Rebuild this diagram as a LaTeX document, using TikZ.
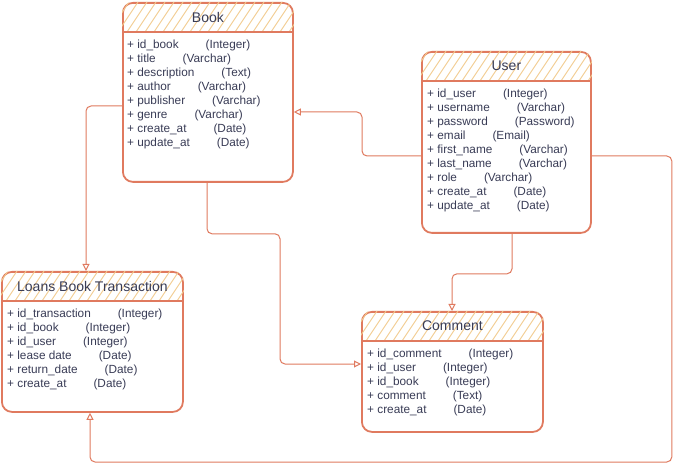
\documentclass[tikz,border=0pt]{standalone}
\usepackage{fontspec}
\setmainfont{Liberation Sans}
\usetikzlibrary{calc,arrows.meta}
\definecolor{strk}{HTML}{E07A5F}
\definecolor{hfill}{HTML}{F2CC8F}
\definecolor{txt}{HTML}{393C56}
\tikzset{
  tbl/.style={draw=strk, line width=1.8pt, rounded corners=10pt, anchor=north west, inner sep=0pt, fill=white},
  hatch/.style={draw=hfill, line width=0.9pt},
  sepline/.style={draw=strk, line width=1.8pt},
  ttl/.style={text=txt, font=\fontsize{14}{16}\selectfont, anchor=center, inner sep=0pt},
  attrs/.style={text=txt, font=\fontsize{11.8}{14}\selectfont, align=left, anchor=north west, inner sep=0pt},
  conn/.style={draw=strk, line width=1pt, rounded corners=5pt, -{Triangle[open,length=7pt,width=7pt]}},
}
\newcommand{\gp}{\hspace{27pt}}
\newcommand{\hdr}[2]{%
  \begin{scope}
    \clip (#1.north west) rectangle ($(#1.north east)+(0,30)$);
    \clip[rounded corners=10pt] (#1.north west) rectangle (#1.south east);
    \foreach \i in {-40,-31,...,200} {
      \draw[hatch] ($(#1.north west)+(\i,30)$) -- ++(20,-30);
    }
  \end{scope}
  \draw[sepline] ($(#1.north west)+(0,30)$) -- ($(#1.north east)+(0,30)$);
  \node[ttl] (#1-title) at ($(#1.north)+(0,15)$) {#2};
}
\begin{document}
\begin{tikzpicture}[x=1pt,y=-1pt]
\useasboundingbox[fill=white] (0,0) rectangle (680,470);

% tables
\node[tbl, minimum width=170pt, minimum height=179pt] (book) at (122,2) {};
\hdr{book}{Book}
\node[tbl, minimum width=169pt, minimum height=181pt] (user) at (421,51) {};
\hdr{user}{User}
\node[tbl, minimum width=181pt, minimum height=140pt] (loans) at (1,271) {};
\hdr{loans}{Loans Book Transaction}
\node[tbl, minimum width=181pt, minimum height=120pt] (comment) at (361,311) {};
\hdr{comment}{Comment}

% attributes
\node[attrs] (book-attr) at ($(book.north west)+(5,38)$) {%
+ id\_book\gp(Integer)\\
+ title\gp(Varchar)\\
+ description\gp(Text)\\
+ author\gp(Varchar)\\
+ publisher\gp(Varchar)\\
+ genre\gp(Varchar)\\
+ create\_at\gp(Date)\\
+ update\_at\gp(Date)};
\node[attrs] (user-attr) at ($(user.north west)+(6,38)$) {%
+ id\_user\gp(Integer)\\
+ username\gp(Varchar)\\
+ password\gp(Password)\\
+ email\gp(Email)\\
+ first\_name\gp(Varchar)\\
+ last\_name\gp(Varchar)\\
+ role\gp(Varchar)\\
+ create\_at\gp(Date)\\
+ update\_at\gp(Date)};
\node[attrs] (loans-attr) at ($(loans.north west)+(6,38)$) {%
+ id\_transaction\gp(Integer)\\
+ id\_book\gp(Integer)\\
+ id\_user\gp(Integer)\\
+ lease date\gp(Date)\\
+ return\_date\gp(Date)\\
+ create\_at\gp(Date)};
\node[attrs] (comment-attr) at ($(comment.north west)+(6,38)$) {%
+ id\_comment\gp(Integer)\\
+ id\_user\gp(Integer)\\
+ id\_book\gp(Integer)\\
+ comment\gp(Text)\\
+ create\_at\gp(Date)};

% connectors
\draw[conn] ($(book.north west)+(0,104)$) -| ($(loans.north west)+(85,0)$);
\draw[conn] ($(book.south west)+(85,0)$) -- ++(0,51) -- ++(73,0) |- ($(comment.north west)+(0,53)$);
\draw[conn] ($(user.north west)+(0,105)$) -- ++(-59,0) |- ($(book.north east)+(0,110)$);
\draw[conn] ($(user.south west)+(91,0)$) -- ++(0,40) -| ($(comment.north west)+(91,0)$);
\draw[conn] ($(user.north east)+(0,105)$) -- ++(80,0) -- ++(0,306) -| ($(loans.south west)+(89,0)$);
\end{tikzpicture}
\end{document}
